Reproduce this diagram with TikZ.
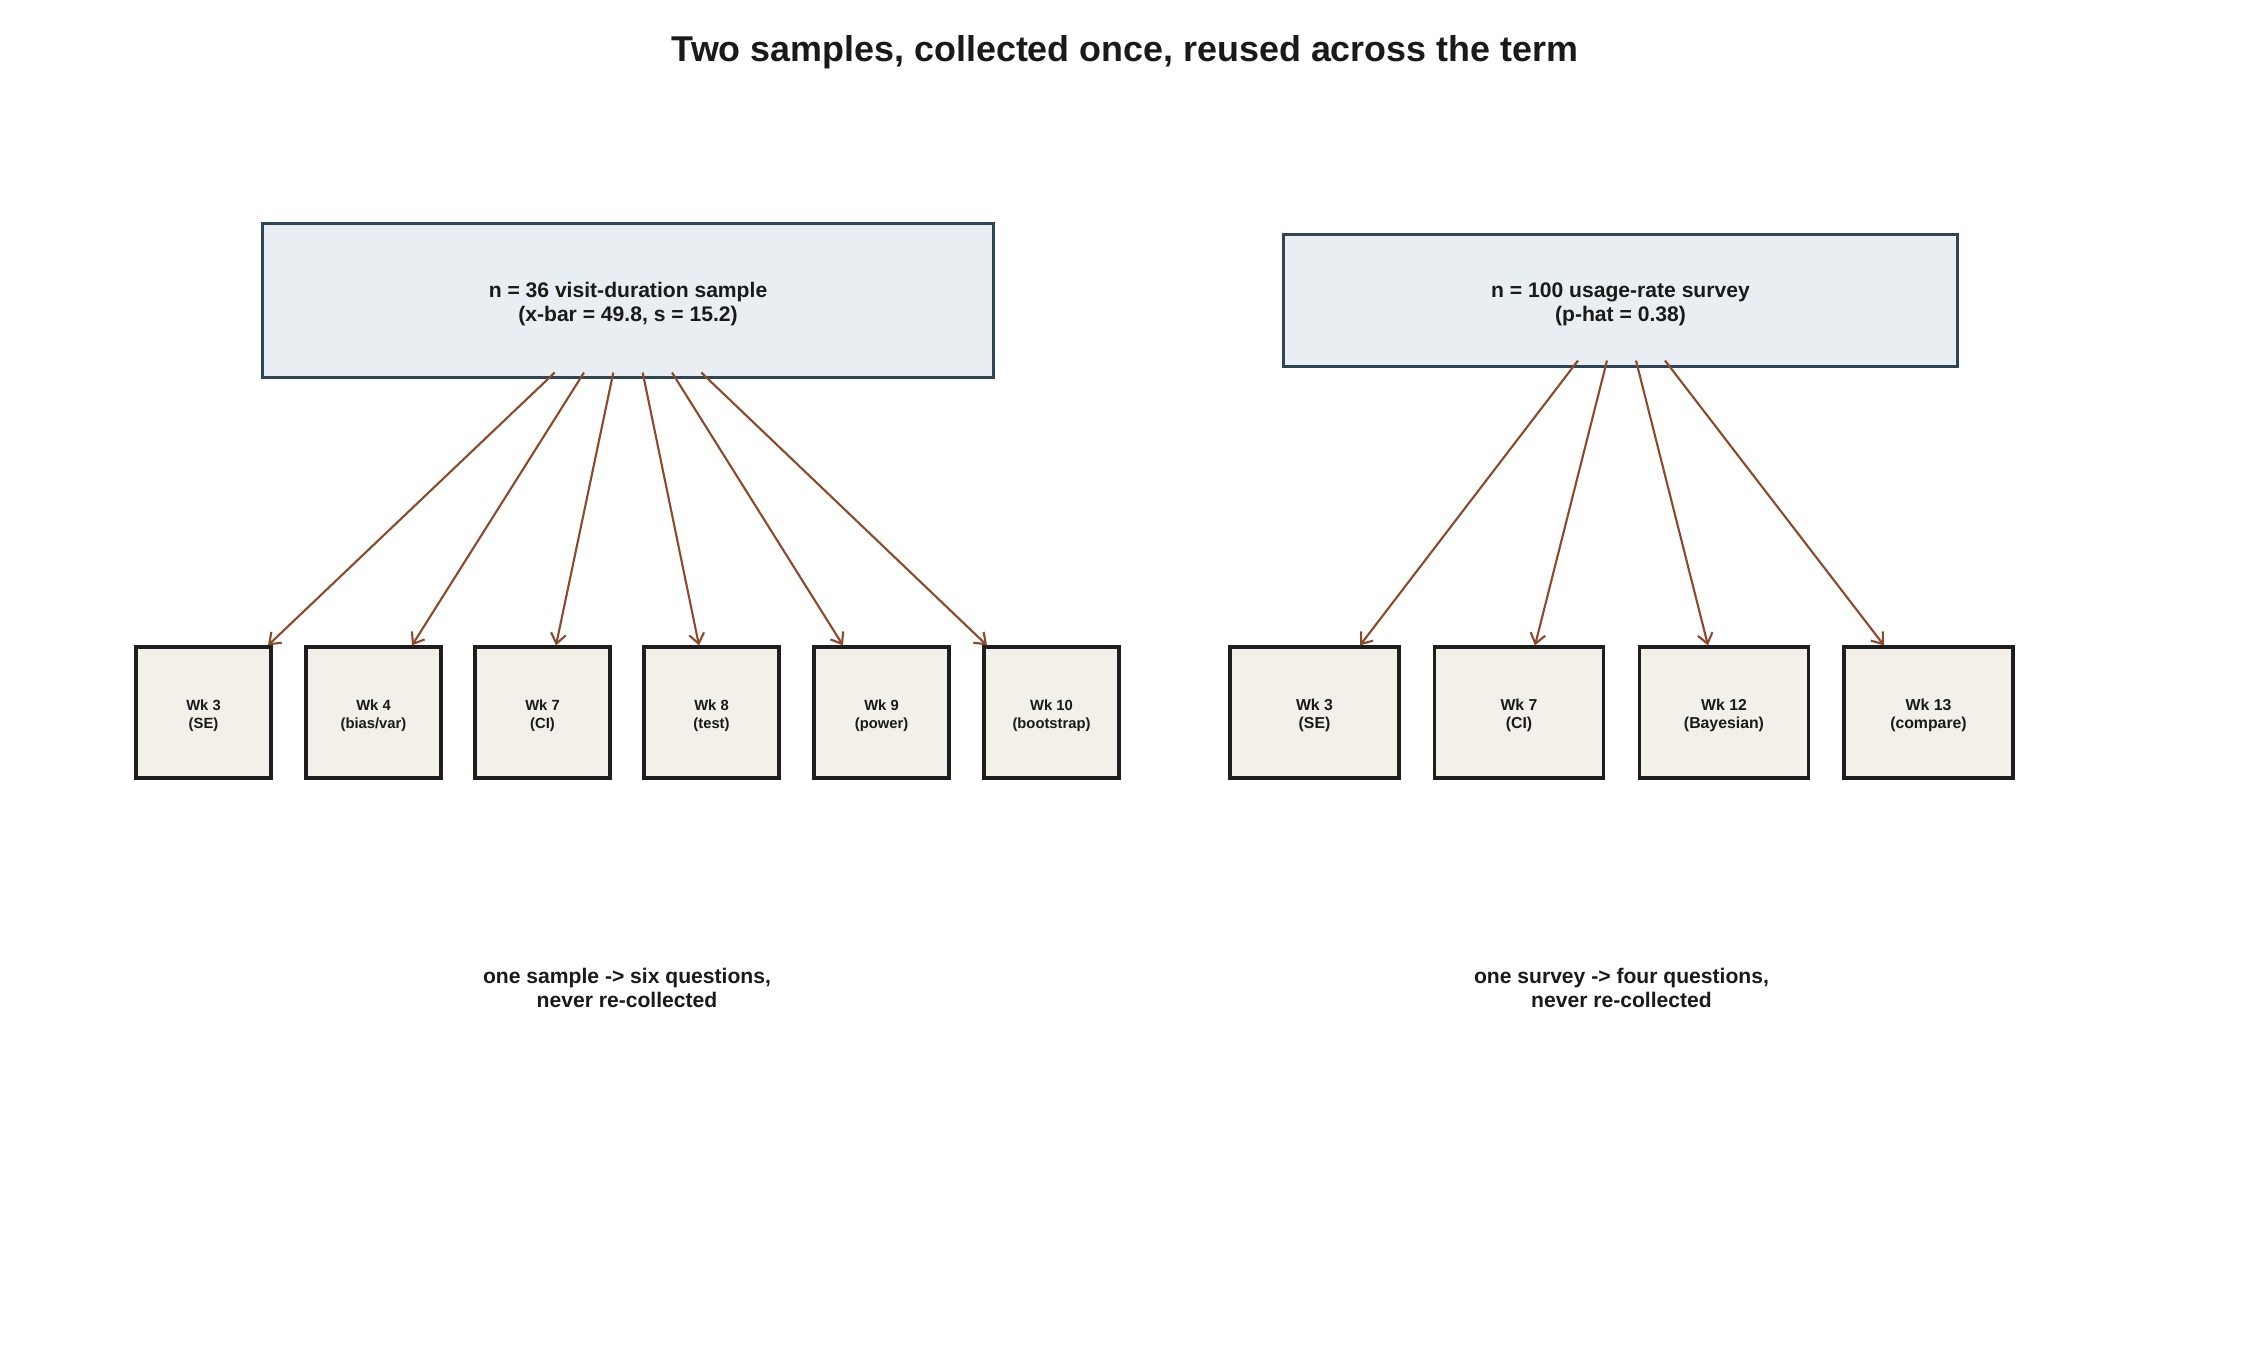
\documentclass[tikz,border=0pt]{standalone}
\usepackage{fontspec}
\setmainfont{Liberation Sans}
\usetikzlibrary{arrows.meta,calc}
\definecolor{bigfill}{HTML}{E8EEF1}
\definecolor{bigdraw}{HTML}{2E4555}
\definecolor{smallfill}{HTML}{F3EFE9}
\definecolor{smalldraw}{HTML}{1E1E1E}
\definecolor{arrowc}{HTML}{8B4A2B}
\definecolor{txt}{HTML}{1A1A1A}
\begin{document}
\begin{tikzpicture}[x=0.01cm,y=-0.01cm,
  bigbox/.style={draw=bigdraw,fill=bigfill,line width=0.85pt,inner sep=0pt},
  bigtext/.style={align=center,inner sep=0pt,text=txt,font=\fontsize{6}{6.83}\selectfont\bfseries},
  wkbox/.style={draw=smalldraw,fill=smallfill,line width=0.9pt,inner sep=0pt,minimum height=1.31cm},
  wkleft/.style={wkbox,minimum width=1.35cm},
  wkright/.style={wkbox,minimum width=1.69cm},
  wktextl/.style={align=center,inner sep=0pt,text=txt,font=\fontsize{4.2}{5.2}\selectfont\bfseries},
  wktextr/.style={align=center,inner sep=0pt,text=txt,font=\fontsize{4.5}{5.2}\selectfont\bfseries},
  link/.style={draw=arrowc,line width=0.6pt,-{Straight Barb[length=0.1cm,width=0.15cm]}},
  caption/.style={align=center,text=txt,font=\fontsize{6}{6.83}\selectfont\bfseries}]
\useasboundingbox[fill=white] (0,0) rectangle (2250,1350);
\node[text=txt,font=\fontsize{10.2}{12}\selectfont\bfseries] (title) at (1125,52)
  {Two samples, collected once, reused across the term};
\node[bigbox,minimum width=7.30cm,minimum height=1.53cm] (A) at (628,300.5) {};
\node[bigtext] (Atxt) at ($(A.center)+(0,4)$) {n = 36 visit-duration sample\\(x-bar = 49.8, s = 15.2)};
\node[bigbox,minimum width=6.73cm,minimum height=1.31cm] (B) at (1620.5,300.5) {};
\node[bigtext] (Btxt) at ($(B.center)+(0,4)$) {n = 100 usage-rate survey\\(p-hat = 0.38)};
\foreach \n/\x/\t in {L1/203.5/{Wk 3\\(SE)},L2/373.5/{Wk 4\\(bias/var)},L3/542.5/{Wk 7\\(CI)},
  L4/711.5/{Wk 8\\(test)},L5/881.5/{Wk 9\\(power)},L6/1051.5/{Wk 10\\(bootstrap)}}{
  \node[wkleft] (\n) at (\x,712.5) {};
  \node[wktextl] (\n txt) at ($(\n.center)+(0,3)$) {\t};
}
\foreach \n/\x/\t in {R1/1314.5/{Wk 3\\(SE)},R2/1519/{Wk 7\\(CI)},R3/1724/{Wk 12\\(Bayesian)},
  R4/1928.5/{Wk 13\\(compare)}}{
  \node[wkright] (\n) at (\x,712.5) {};
  \node[wktextr] (\n txt) at ($(\n.center)+(0,3)$) {\t};
}
\draw[link] ($(A.south)+(-73.3,-6)$) -- ($(L1.north)+(64.5,0)$);
\draw[link] ($(A.south)+(-44,-6)$) -- ($(L2.north)+(38.5,0)$);
\draw[link] ($(A.south)+(-14.7,-6)$) -- ($(L3.north)+(13.5,0)$);
\draw[link] ($(A.south)+(14.7,-6)$) -- ($(L4.north)+(-12.5,0)$);
\draw[link] ($(A.south)+(44,-6)$) -- ($(L5.north)+(-38.5,0)$);
\draw[link] ($(A.south)+(73.3,-6)$) -- ($(L6.north)+(-64.5,0)$);
\draw[link] ($(B.south)+(-42.5,-7)$) -- ($(R1.north)+(45.5,0)$);
\draw[link] ($(B.south)+(-13.5,-7)$) -- ($(R2.north)+(16,0)$);
\draw[link] ($(B.south)+(15.5,-7)$) -- ($(R3.north)+(-16,0)$);
\draw[link] ($(B.south)+(44.5,-7)$) -- ($(R4.north)+(-44.5,0)$);
\node[caption] (capA) at (627,988) {one sample -> six questions,\\never re-collected};
\node[caption] (capB) at (1621.5,988) {one survey -> four questions,\\never re-collected};
\end{tikzpicture}
\end{document}
